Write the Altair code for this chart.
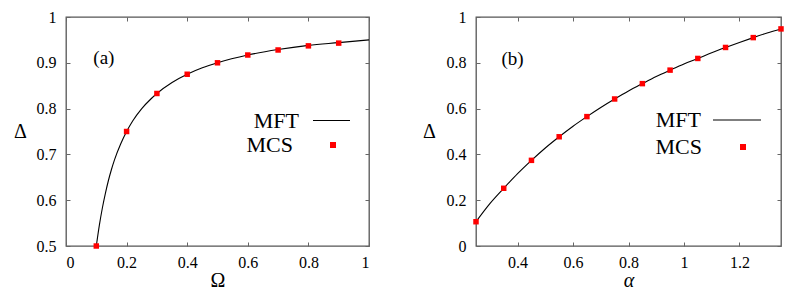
import altair as alt
import pandas as pd

# ---- Panel (a): Delta vs Omega ----
omega_line = [0.10, 0.11, 0.12, 0.13, 0.14, 0.15, 0.16, 0.18, 0.20, 0.22, 0.25, 0.28,
              0.30, 0.35, 0.40, 0.45, 0.50, 0.60, 0.70, 0.80, 0.90, 1.00]
delta_line_a = [0.500, 0.545, 0.583, 0.615, 0.643, 0.667, 0.688, 0.722, 0.750, 0.773, 0.800, 0.821,
                0.833, 0.857, 0.875, 0.889, 0.900, 0.917, 0.929, 0.938, 0.944, 0.950]
omega_mcs = [0.1, 0.2, 0.3, 0.4, 0.5, 0.6, 0.7, 0.8, 0.9]
delta_mcs_a = [0.500, 0.750, 0.833, 0.875, 0.900, 0.917, 0.928, 0.937, 0.943]

# ---- Panel (b): Delta vs alpha ----
alpha_line = [0.25, 0.30, 0.35, 0.40, 0.45, 0.50, 0.55, 0.60, 0.65, 0.70, 0.75, 0.80,
              0.85, 0.90, 0.95, 1.00, 1.05, 1.10, 1.15, 1.20, 1.25, 1.30, 1.35]
delta_line_b = [0.106, 0.185, 0.252, 0.316, 0.374, 0.428, 0.477, 0.523, 0.565, 0.605, 0.642, 0.677,
                0.709, 0.740, 0.768, 0.795, 0.819, 0.844, 0.867, 0.889, 0.910, 0.930, 0.948]
alpha_mcs = [0.25, 0.35, 0.45, 0.55, 0.65, 0.75, 0.85, 0.95, 1.05, 1.15, 1.25, 1.35]
delta_mcs_b = [0.106, 0.252, 0.374, 0.477, 0.565, 0.642, 0.709, 0.768, 0.819, 0.867, 0.910, 0.948]

FONT = "Liberation Serif, DejaVu Serif, serif"
TICK_FS = 16
TITLE_FS = 20
LEG_FS = 22


def panel(xs_line, ys_line, xs_pts, ys_pts, xtitle, xdom, xticks, ydom, yticks,
          w, h, tag, tag_x, tag_y, italic_x, ytitle_x,
          mft_x, mft_y, mft_off, mcs_x, mcs_y, mcs_off, line_len):
    df_line = pd.DataFrame({"x": xs_line, "y": ys_line, "s": "MFT"})
    df_pts = pd.DataFrame({"x": xs_pts, "y": ys_pts, "s": "MCS"})
    df_tag = pd.DataFrame({"x": [tag_x], "y": [tag_y], "t": [tag]})

    xaxis = alt.Axis(values=xticks, format=".1~f", title=xtitle, ticks=False, domain=False,
                     grid=True, gridColor="#666", gridWidth=1, gridDash=[4, h - 8],
                     labelFont=FONT, labelFontSize=TICK_FS, labelPadding=8, labelColor="black",
                     titleFont=FONT, titleFontSize=TITLE_FS, titleFontWeight="normal",
                     titleFontStyle="italic" if italic_x else "normal",
                     titleBaseline="alphabetic", titleY=40, titleColor="black")
    yaxis = alt.Axis(values=yticks, format=".1~f", title="Δ", ticks=False, domain=False,
                     grid=True, gridColor="#666", gridWidth=1, gridDash=[4, w - 8],
                     labelFont=FONT, labelFontSize=TICK_FS, labelPadding=10, labelColor="black",
                     titleFont=FONT, titleFontSize=TITLE_FS, titleFontWeight="normal",
                     titleAngle=0, titleAlign="center", titleBaseline="middle",
                     titleX=ytitle_x, titleY=h / 2, titleColor="black")
    xenc = alt.X("x:Q", scale=alt.Scale(domain=xdom, nice=False, zero=False), axis=xaxis)
    yenc = alt.Y("y:Q", scale=alt.Scale(domain=ydom, nice=False, zero=False), axis=yaxis)

    line = alt.Chart(df_line).mark_line(strokeWidth=1.1, interpolate="monotone").encode(
        x=xenc, y=yenc,
        stroke=alt.Stroke("s:N", scale=alt.Scale(domain=["MFT"], range=["black"]),
                          legend=alt.Legend(title=None, orient="none", legendX=mft_x, legendY=mft_y,
                                            symbolType="stroke", symbolSize=line_len * line_len,
                                            symbolStrokeWidth=1.1, labelAlign="right",
                                            labelOffset={"expr": str(mft_off)},
                                            labelFont=FONT,
                                            labelFontSize=LEG_FS, labelColor="black",
                                            padding=0, labelLimit=200)),
    )
    pts = alt.Chart(df_pts).mark_square(size=30, opacity=1).encode(
        x=xenc, y=yenc,
        fill=alt.Fill("s:N", scale=alt.Scale(domain=["MCS"], range=["#ff0000"]),
                      legend=alt.Legend(title=None, orient="none", legendX=mcs_x,
                                        legendY=mcs_y,
                                        symbolType="square", symbolSize=36, symbolStrokeWidth=0,
                                        labelAlign="right",
                                        labelOffset={"expr": str(mcs_off)},
                                        labelFont=FONT,
                                        labelFontSize=LEG_FS, labelColor="black",
                                        padding=0, labelLimit=200)),
    )
    txt = alt.Chart(df_tag).mark_text(font=FONT, fontSize=19, color="black").encode(
        x="x:Q", y="y:Q", text="t:N")
    return alt.layer(line, pts, txt).resolve_scale(stroke="independent", fill="independent").properties(
        width=w, height=h)


pa = panel(omega_line, delta_line_a, omega_mcs, delta_mcs_a, "Ω", [0, 1],
           [0, 0.2, 0.4, 0.6, 0.8, 1], [0.5, 1], [0.5, 0.6, 0.7, 0.8, 0.9, 1],
           303, 229, "(a)", 0.125, 0.91, False, -46,
           246, 84, -52, 256, 117, -51, 37)
pb = panel(alpha_line, delta_line_b, alpha_mcs, delta_mcs_b, "α", [0.25, 1.35],
           [0.4, 0.6, 0.8, 1.0, 1.2], [0, 1], [0, 0.2, 0.4, 0.6, 0.8, 1],
           305, 229, "(b)", 0.382, 0.815, True, -47,
           236, 78, -61, 256, 119, -52, 48)

chart = alt.hconcat(pa, pb, spacing=49).properties(
    padding={"left": 4, "top": 0, "right": 0, "bottom": 0}
).configure(background="white", font=FONT).configure_view(stroke="#555", strokeWidth=1.3).configure_axis(
    labelFont=FONT, titleFont=FONT).configure_legend(labelFont=FONT).configure_text(font=FONT)

chart.save("out.html", embed_options={"renderer": "svg", "actions": False})
